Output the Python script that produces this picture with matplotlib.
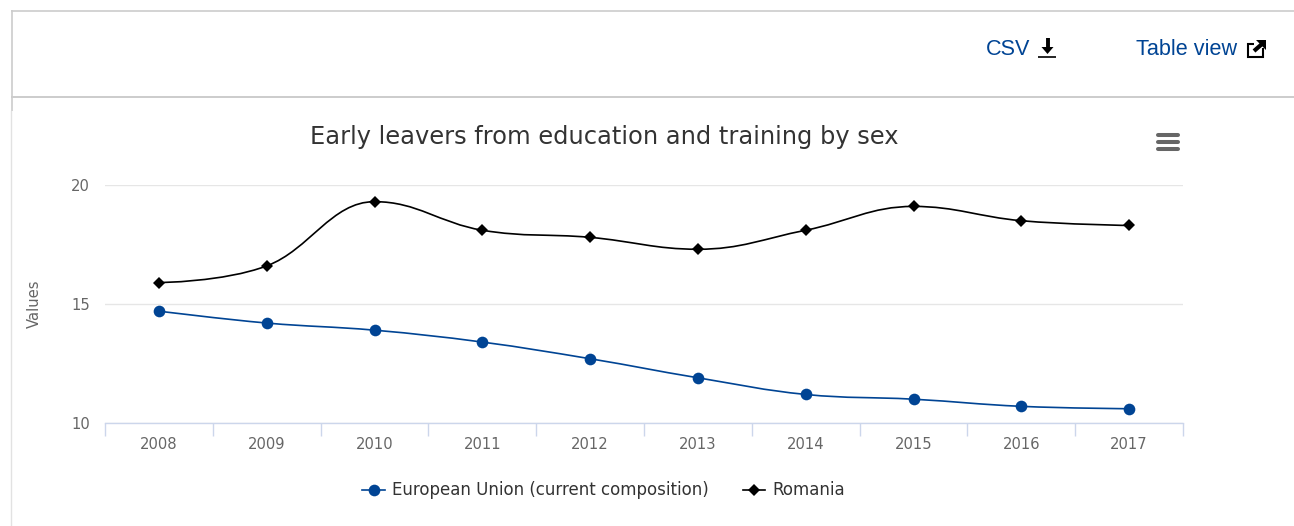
import matplotlib
matplotlib.use("Agg")
import matplotlib.pyplot as plt
from matplotlib.path import Path
from matplotlib.patches import PathPatch, Rectangle
from matplotlib.lines import Line2D

plt.rcParams["font.family"] = "DejaVu Sans"

W, H = 1294, 526

years = ["2008", "2009", "2010", "2011", "2012", "2013", "2014", "2015", "2016", "2017"]
eu_values = [14.7, 14.2, 13.9, 13.4, 12.7, 11.9, 11.2, 11.0, 10.7, 10.6]
ro_values = [15.9, 16.6, 19.3, 18.1, 17.8, 17.3, 18.1, 19.1, 18.5, 18.3]
y_ticks = [10, 15, 20]

blue = "#004494"
grey = "#666666"


def spline_path(xs, ys):
    # same smoothing as a highcharts spline series
    verts = [(xs[0], ys[0])]
    codes = [Path.MOVETO]
    right_prev = (xs[0], ys[0])
    n = len(xs)
    for i in range(1, n):
        x, y = xs[i], ys[i]
        if i < n - 1:
            lx = (1.5 * x + xs[i - 1]) / 2.5
            ly = (1.5 * y + ys[i - 1]) / 2.5
            rx = (1.5 * x + xs[i + 1]) / 2.5
            ry = (1.5 * y + ys[i + 1]) / 2.5
            corr = (ry - ly) * (rx - x) / (rx - lx) + y - ry
            ly += corr
            ry += corr
            if ly > ys[i - 1] and ly > y:
                ly = max(ys[i - 1], y)
                ry = 2 * y - ly
            elif ly < ys[i - 1] and ly < y:
                ly = min(ys[i - 1], y)
                ry = 2 * y - ly
            if ry > ys[i + 1] and ry > y:
                ry = max(ys[i + 1], y)
                ly = 2 * y - ry
            elif ry < ys[i + 1] and ry < y:
                ry = min(ys[i + 1], y)
                ly = 2 * y - ry
        else:
            lx, ly = x, y
            rx, ry = x, y
        verts += [right_prev, (lx, ly), (x, y)]
        codes += [Path.CURVE4, Path.CURVE4, Path.CURVE4]
        right_prev = (rx, ry)
    return Path(verts, codes)


fig = plt.figure(figsize=(W / 100, H / 100), dpi=100)

# page furniture, drawn in pixel coordinates
bg = fig.add_axes([0, 0, 1, 1])
bg.set_xlim(0, W)
bg.set_ylim(H, 0)
bg.axis("off")
bg.plot([11, W], [10.5, 10.5], color="#cccccc", lw=1.2, solid_capstyle="butt")
bg.plot([11, W], [97, 97], color="#cccccc", lw=1.4, solid_capstyle="butt")
bg.plot([11.5, 11.5], [10, 111], color="#cccccc", lw=1.2, solid_capstyle="butt")
bg.plot([11, 11], [111, H], color="#e2e2e2", lw=1)

bg.text(986, 49.5, "CSV", color=blue, fontsize=15.6, family="Liberation Sans", va="center", ha="left")
bg.text(1136, 49.5, "Table view", color=blue, fontsize=15.6, family="Liberation Sans", va="center", ha="left")

# download icon
bg.plot([1047.5, 1047.5], [38, 49], color="black", lw=2.8, solid_capstyle="butt")
bg.add_patch(plt.Polygon([[1041.5, 47], [1053.5, 47], [1047.5, 54]], color="black", lw=0))
bg.plot([1038, 1056], [57, 57], color="black", lw=1.2, solid_capstyle="butt")

# external link icon
bg.add_patch(Rectangle((1247.5, 43.5), 15, 13, fill=False, ec="black", lw=1.5))
bg.add_patch(Rectangle((1254, 38), 13, 10, color="white", lw=0))
bg.plot([1254, 1262], [51, 44], color="black", lw=3, solid_capstyle="butt")
bg.add_patch(plt.Polygon([[1255.5, 39.5], [1265.7, 39.5], [1265.7, 50]], color="black", lw=0))

# menu icon
for yy in [135.3, 142, 149]:
    bg.plot([1158, 1177.5], [yy, yy], color=grey, lw=2.9, solid_capstyle="round")

# plot area: y=20 sits at pixel 185, y=10 at pixel 423
ax = fig.add_axes([105 / W, 1 - 423 / H, 1078 / W, 238 / H])
ax.patch.set_alpha(0)
ax.set_xlim(-0.5, 9.5)
ax.set_ylim(10, 20)
for s in ["top", "left", "right"]:
    ax.spines[s].set_visible(False)
ax.spines["bottom"].set_color("#ccd6eb")
ax.spines["bottom"].set_linewidth(1)

ax.set_yticks(y_ticks)
ax.set_yticklabels([str(v) for v in y_ticks])
ax.tick_params(axis="y", length=0, labelsize=10.6, labelcolor=grey, pad=11)
ax.grid(axis="y", color="#e6e6e6", lw=1)
ax.set_axisbelow(True)

ax.set_xticks([i + 0.5 for i in range(-1, len(years))])
ax.set_xticklabels([])
ax.tick_params(axis="x", length=9.5, width=1, color="#ccd6eb")
for i, label in enumerate(years):
    ax.annotate(label, (i, 10), xytext=(0, -15.5), textcoords="offset points",
                ha="center", va="center", fontsize=10.6, color=grey)

ax.set_ylabel("Values", fontsize=10.6, color=grey)
ax.yaxis.set_label_coords(-0.0585, 0.5)

xs = list(range(len(years)))
ax.add_patch(PathPatch(spline_path(xs, eu_values), fill=False, ec=blue, lw=1.2, clip_on=False))
ax.add_patch(PathPatch(spline_path(xs, ro_values), fill=False, ec="black", lw=1.2, clip_on=False))
ax.plot(xs, eu_values, ls="none", marker="o", ms=8.4, color=blue, mew=0, clip_on=False)
ax.plot(xs, ro_values, ls="none", marker="D", ms=6, color="black", mew=0, clip_on=False)

fig.text(604 / W, 1 - 137 / H, "Early leavers from education and training by sex",
         ha="center", va="center", fontsize=17.4, color="#333333")

# legend in pixel coordinates
bg.add_line(Line2D([362, 385], [490, 490], color=blue, lw=1.2))
bg.plot([373.5], [490], marker="o", ms=8.4, color=blue, mew=0)
bg.text(392, 490, "European Union (current composition)", fontsize=12, color="#333333", va="center")
bg.add_line(Line2D([743, 765], [490, 490], color="black", lw=1.2))
bg.plot([754], [490], marker="D", ms=6, color="black", mew=0)
bg.text(772, 490, "Romania", fontsize=12, color="#333333", va="center")

fig.savefig("out.png", dpi=100)
